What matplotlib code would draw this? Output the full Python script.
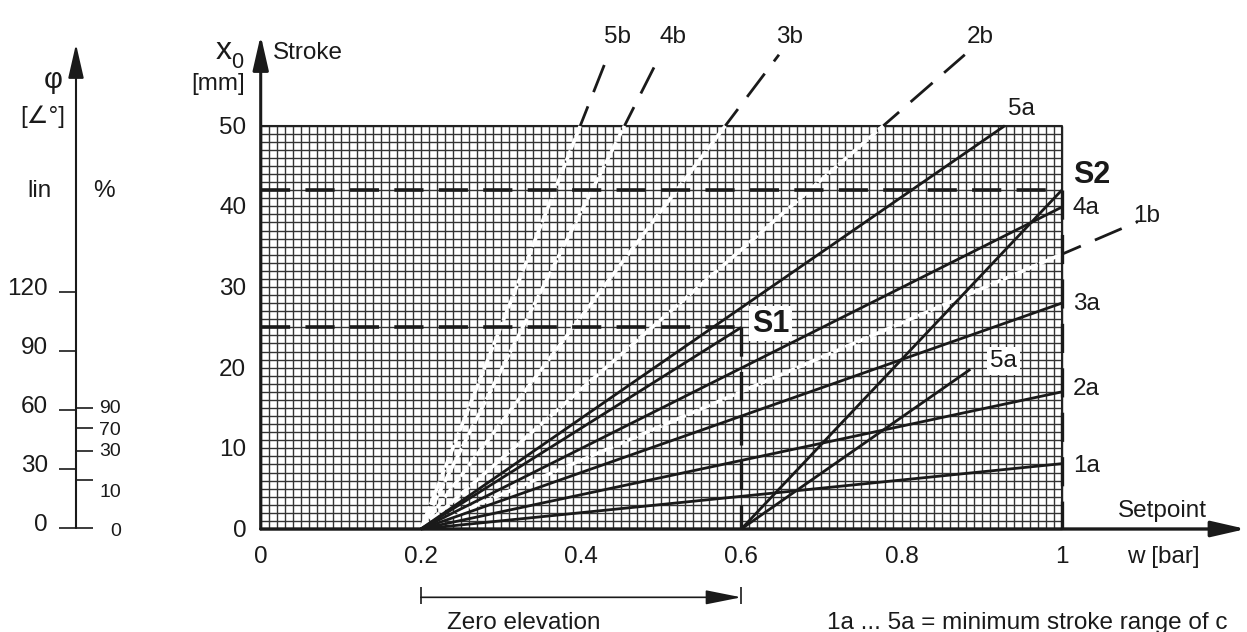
import matplotlib
matplotlib.use('Agg')
import matplotlib.pyplot as plt
import numpy as np

plt.rcParams['font.family'] = ['Liberation Sans', 'DejaVu Sans']
plt.rcParams['lines.scale_dashes'] = False
plt.rcParams['lines.solid_capstyle'] = 'butt'
plt.rcParams['lines.dash_capstyle'] = 'butt'

# ---- data ----
x_ticks = [0, 0.2, 0.4, 0.6, 0.8, 1]
x_ticklabels = ['0', '0.2', '0.4', '0.6', '0.8', '1']
y_ticks = [0, 10, 20, 30, 40, 50]

zero_start = 0.2          # w where all curves begin
elev_start = 0.6          # w after zero elevation

# a lines: minimum stroke range (solid black)
a_names = ['1a', '2a', '3a', '4a', '5a']
a_end_x = [1.0, 1.0, 1.0, 1.0, 0.929]
a_end_y = [8.1, 17.0, 28.0, 39.9, 50.0]
a_label_x = [1.014, 1.014, 1.014, 1.014, 0.933]
a_label_y = [7.1, 16.6, 27.2, 39.1, 51.3]

# b lines: maximum stroke (white inside grid, dashed outside)
b_names = ['1b', '2b', '3b', '4b', '5b']
b_end_x = [1.095, 0.879, 0.647, 0.499, 0.434]
b_end_y = [38.1, 58.8, 58.8, 58.8, 58.8]
b_label_x = [1.106, 0.898, 0.660, 0.515, 0.446]
b_label_y = [38.1, 60.3, 60.3, 60.3, 60.3]

# working points
s1 = (0.6, 25)
s2 = (1.0, 42)
elev_end_x = [1.0, 0.886]
elev_end_y = [42, 19.8]
elev_label = ('5a', 0.9105, 20.1)

# left angle / percent scale
deg_ticks = [0, 30, 60, 90, 120]
pct_labels = ['0', '10', '30', '70', '90']
pct_pos = [0, 24.3, 39.3, 50.7, 60.9]
pct_label_pos = [-4.1, 15.6, 36.8, 47.3, 58.3]

FS = 17.5
INK = '#1a1a1a'
DASH = (0, (21, 11))

fig = plt.figure(figsize=(12.47, 6.32), dpi=100)
ax = fig.add_axes([0, 0, 1, 1])
ax.set_xlim(-260.7 / 801, (1247 - 260.7) / 801)
ax.set_ylim((529 - 632) / 8.066, 529 / 8.066)
ax.axis('off')

# grid paper
ax.vlines(np.linspace(0, 1, 101), 0, 50, color='#333333', lw=1.0, zorder=1)
ax.hlines(np.arange(0, 51), 0, 1, color='#333333', lw=1.0, zorder=1)
ax.plot([0, 1, 1], [50, 50, 0], color='#222222', lw=1.5, zorder=2)

# axes with arrows
arrow_kw = dict(arrowstyle='-|>,head_length=1.05,head_width=0.24', color=INK,
                mutation_scale=20, shrinkA=0, shrinkB=0)
ax.annotate('', xy=(1.230, 0), xytext=(0, 0),
            arrowprops=dict(lw=2.4, **arrow_kw), zorder=5)
ax.annotate('', xy=(0, 61.2), xytext=(0, 0),
            arrowprops=dict(lw=2.2, **arrow_kw), zorder=5)

# b lines
for ex, ey in zip(b_end_x, b_end_y):
    slope = ey / (ex - zero_start)
    xc = zero_start + 50 / slope
    yc = 50
    if xc > 1:
        xc = 1
        yc = slope * (1 - zero_start)
    ax.plot([zero_start, xc], [0, yc], color='white', lw=2.6,
            ls=(0, (8, 1.5)), zorder=3)
    ax.plot([xc, ex], [yc, ey], color=INK, lw=2.0, ls=(6, (21, 11)), zorder=3)
for name, lx, ly in zip(b_names, b_label_x, b_label_y):
    ax.text(lx, ly, name, fontsize=FS, ha='center', va='baseline', color=INK)

# a lines
for ex, ey in zip(a_end_x, a_end_y):
    ax.plot([zero_start, ex], [0, ey], color=INK, lw=2.0, zorder=4)
for name, lx, ly in zip(a_names, a_label_x, a_label_y):
    ax.text(lx, ly, name, fontsize=FS, ha='left', va='baseline', color=INK)

# line to S1 and lines after zero elevation
ax.plot([zero_start, s1[0]], [0, s1[1]], color=INK, lw=2.0, zorder=4)
for ex, ey in zip(elev_end_x, elev_end_y):
    ax.plot([elev_start, ex], [0, ey], color=INK, lw=2.0, zorder=4)
ax.text(elev_label[1], elev_label[2], elev_label[0], fontsize=FS, ha='left',
        va='baseline', color=INK, zorder=6,
        bbox=dict(facecolor='white', edgecolor='none', pad=2))

# working point guides
ax.plot([0, s1[0]], [s1[1], s1[1]], color=INK, lw=2.6, ls=DASH, zorder=4)
ax.plot([s1[0], s1[0]], [s1[1], 0], color=INK, lw=2.4, ls=DASH, zorder=4)
ax.plot([0, s2[0]], [s2[1], s2[1]], color=INK, lw=2.6, ls=DASH, zorder=4)
ax.plot([s2[0], s2[0]], [s2[1], 0], color=INK, lw=2.4, ls=DASH, zorder=4)
ax.text(0.6129, 24.46, 'S1', fontsize=22, fontweight='bold', ha='left', va='baseline',
        color=INK, zorder=6, bbox=dict(facecolor='white', edgecolor='none', pad=2))
ax.text(1.0138, 42.93, 'S2', fontsize=22, fontweight='bold', ha='left', va='baseline',
        color=INK)

# tick labels
for xt, lab in zip(x_ticks, x_ticklabels):
    ax.text(xt, -4.18, lab, fontsize=FS, ha='center', va='baseline', color=INK)
for yt in y_ticks:
    ax.text(-0.018, yt - 1.0, str(yt), fontsize=FS, ha='right', va='baseline', color=INK)

# axis titles
ax.text(-0.0565, 58.27, 'x', fontsize=23, ha='left', va='baseline', color=INK)
ax.text(-0.0365, 57.1, '0', fontsize=15.5, ha='left', va='baseline', color=INK)
ax.text(-0.0196, 54.43, '[mm]', fontsize=FS, ha='right', va='baseline', color=INK)
ax.text(0.0154, 58.27, 'Stroke', fontsize=FS, ha='left', va='baseline', color=INK)
ax.text(1.0704, 1.52, 'Setpoint', fontsize=FS, ha='left', va='baseline', color=INK)
ax.text(1.0815, -4.18, 'w [bar]', fontsize=FS, ha='left', va='baseline', color=INK)

# zero elevation marker
ax.annotate('', xy=(elev_start, -8.47), xytext=(zero_start, -8.47),
            arrowprops=dict(arrowstyle='-|>,head_length=1.1,head_width=0.22',
                            color=INK, lw=1.2, mutation_scale=20,
                            shrinkA=0, shrinkB=0))
ax.vlines([zero_start, elev_start], -9.30, -7.19, color=INK, lw=1.2)
ax.text(0.2325, -12.43, 'Zero elevation', fontsize=FS, ha='left', va='baseline', color=INK)
ax.text(0.707, -12.4, '1a ... 5a = minimum stroke range of c', fontsize=FS,
        ha='left', va='baseline', color=INK)

# ---- left scale (degrees / percent) ----
ax2 = fig.add_axes([0, 0, 1, 1], facecolor='none')
ax2.set_xlim(ax.get_xlim())
ax2.set_ylim((528 - 632) / 1.9667, 528 / 1.9667)
ax2.axis('off')
lx = (76 - 260.7) / 801
ltick = (59 - 260.7) / 801
rtick = (93 - 260.7) / 801
ax2.annotate('', xy=(lx, 246.1), xytext=(lx, 0),
             arrowprops=dict(lw=1.5, **arrow_kw))
ax2.hlines(deg_ticks, ltick, lx, color=INK, lw=1.2)
ax2.hlines(pct_pos, lx, rtick, color=INK, lw=1.2)
for d in deg_ticks:
    ax2.text((48 - 260.7) / 801, d - 1.5, str(d), fontsize=FS, ha='right',
             va='baseline', color=INK)
for lab, p in zip(pct_labels, pct_label_pos):
    ax2.text((121 - 260.7) / 801, p, lab, fontsize=14, ha='right',
             va='baseline', color=INK)
ax2.text((53 - 260.7) / 801, 227.7, 'φ', fontsize=21, ha='center', va='center', color=INK)
ax2.text((43 - 260.7) / 801, 208.9, '[∠°]', fontsize=FS, ha='center', va='center', color=INK)
ax2.text((39 - 260.7) / 801, 171.6, 'lin', fontsize=FS, ha='center', va='center', color=INK)
ax2.text((104 - 260.7) / 801, 171.6, '%', fontsize=FS, ha='center', va='center', color=INK)

fig.savefig('out.png', dpi=100)
